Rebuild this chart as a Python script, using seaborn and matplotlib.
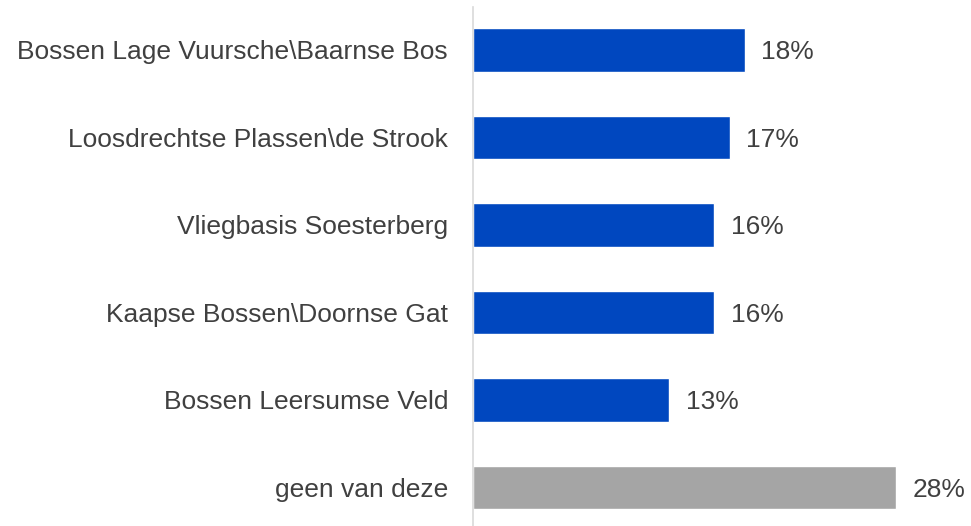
import matplotlib
matplotlib.use("Agg")
import matplotlib.pyplot as plt
import seaborn as sns
import pandas as pd

categories = [
    "Bossen Lage Vuursche\\Baarnse Bos",
    "Loosdrechtse Plassen\\de Strook",
    "Vliegbasis Soesterberg",
    "Kaapse Bossen\\Doornse Gat",
    "Bossen Leersumse Veld",
    "geen van deze",
]
values = [18, 17, 16, 16, 13, 28]
colors = ["#0047BF"] * 5 + ["#A5A5A5"]

sns.set_theme(style="white")
plt.rcParams["font.family"] = ["Liberation Sans", "DejaVu Sans"]

df = pd.DataFrame({"gebied": categories, "pct": values})

fig = plt.figure(figsize=(9.71, 5.26), dpi=100)
ax = fig.add_axes([473 / 971, 0.0, 1 - 473 / 971, 1 - 7 / 526])

sns.barplot(data=df, x="pct", y="gebied", hue="gebied", palette=colors,
            legend=False, width=0.5, ax=ax, saturation=1)

ax.set_xlim(0, 33)
ax.set_ylim(5.44, -0.49)
ax.set_xlabel("")
ax.set_ylabel("")
ax.set_xticks([])
for side in ["top", "right", "bottom"]:
    ax.spines[side].set_visible(False)
ax.spines["left"].set_color("#D9D9D9")
ax.spines["left"].set_linewidth(1.2)
ax.tick_params(axis="y", length=0, pad=18, labelsize=19, labelcolor="#404040")

for i, v in enumerate(values):
    ax.text(v + 1.1, i, f"{v}%", va="center_baseline", ha="left",
            fontsize=19, color="#404040")

fig.savefig("out.png", dpi=100)
